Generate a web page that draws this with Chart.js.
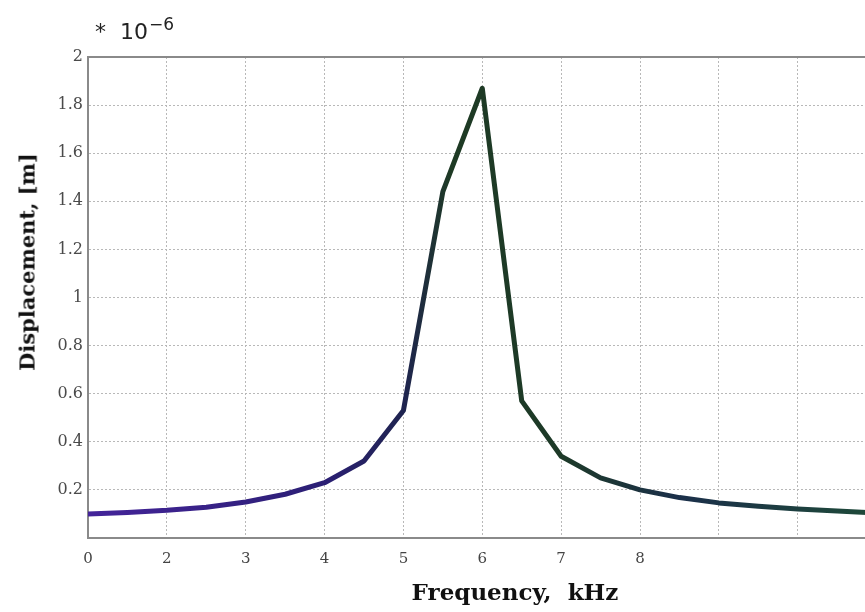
<!DOCTYPE html>
<html>
<head>
<meta charset="utf-8">
<script src="https://cdn.jsdelivr.net/npm/chart.js@4/dist/chart.umd.min.js"></script>
<style>
  html, body { margin: 0; padding: 0; background: #fff; overflow: hidden; width: 865px; height: 612px; }
  #wrap { position: absolute; left: 0; top: 0; width: 916px; height: 612px; }
  #scale { position: absolute; left: 95px; top: 21px; font: 22px "DejaVu Sans", sans-serif; line-height: 22px; color: #222; white-space: nowrap; }
  #scale sup { font-size: 17px; position: relative; top: -9px; vertical-align: baseline; margin-left: 1px; }
  .axis-title { position: absolute; font: bold 21px "DejaVu Serif", serif; color: #111; white-space: nowrap; transform: translate(-50%, -50%); }
  #ytitle { left: 27px; top: 262px; transform: translate(-50%, -50%) rotate(-90deg); }
  #xtitle { left: 515px; top: 591px; font-size: 23px; }
</style>
</head>
<body>
<div id="wrap"><canvas id="chart" width="916" height="612"></canvas></div>
<div id="scale">*&nbsp;&nbsp;10<sup>−6</sup></div>
<div class="axis-title" id="ytitle">Displacement, [m]</div>
<div class="axis-title" id="xtitle">Frequency,&nbsp;&nbsp;kHz</div>
<script>
// positions along the x axis (grid units) and displacement in 1e-6 m
const xPos = [0, 0.5, 1, 1.5, 2, 2.5, 3, 3.5, 4, 4.5, 5, 5.5, 6, 6.5, 7, 7.5, 8, 8.5, 9, 9.5, 10]
const displacement = [0.1, 0.106, 0.115, 0.128, 0.15, 0.182, 0.23, 0.32, 0.53, 1.44, 1.87, 0.57, 0.34, 0.25, 0.2, 0.168, 0.146, 0.132, 0.121, 0.112, 0.104]
// labels printed under the vertical grid lines
const xTickLabels = ['0', '2', '3', '4', '5', '6', '7', '8', '', '', '']

const points = xPos.map((x, i) => ({ x: x, y: displacement[i] }))

// gradient purple -> dark green along the curve
function lineGradient(context) {
  const area = context.chart.chartArea
  if (!area) return '#2a1f70'
  const g = context.chart.ctx.createLinearGradient(area.left, 0, area.left + 10 * (area.right - area.left) / 10.5, 0)
  g.addColorStop(0, '#44249a')
  g.addColorStop(0.3, '#2b1f74')
  g.addColorStop(0.4, '#1f2450')
  g.addColorStop(0.46, '#1e3a24')
  g.addColorStop(0.6, '#1d3a28')
  g.addColorStop(0.75, '#1b2f4a')
  g.addColorStop(1, '#1e4a38')
  return g
}

const tickFont = '"DejaVu Serif", serif'

new Chart(document.getElementById('chart'), {
  type: 'line',
  data: {
    datasets: [{
      data: points,
      borderColor: lineGradient,
      borderWidth: 5,
      pointRadius: 0,
      tension: 0,
      borderJoinStyle: 'round',
      borderCapStyle: 'round'
    }]
  },
  options: {
    responsive: false,
    animation: false,
    layout: { padding: 0 },
    plugins: {
      legend: { display: false },
      tooltip: { enabled: false }
    },
    scales: {
      x: {
        type: 'linear',
        position: 'bottom',
        min: 0,
        max: 10.5,
        afterFit: (scale) => { scale.height = 74 },
        ticks: {
          stepSize: 1,
          includeBounds: false,
          padding: 12,
          color: '#444',
          font: { family: tickFont, size: 15 },
          maxRotation: 0,
          callback: (v) => xTickLabels[v] ?? ''
        },
        grid: { color: '#b8b8b8', drawTicks: false, lineWidth: 1 },
        border: { display: true, color: '#8a8a8a', width: 2, dash: [2, 2] }
      },
      xTop: {
        type: 'linear',
        position: 'top',
        min: 0,
        max: 10.5,
        afterFit: (scale) => { scale.height = 57 },
        ticks: { display: false },
        grid: { display: false },
        border: { display: true, color: '#8a8a8a', width: 2 }
      },
      y: {
        min: 0,
        max: 2,
        afterFit: (scale) => { scale.width = 88 },
        ticks: {
          stepSize: 0.2,
          padding: 5,
          color: '#4a4a4a',
          font: { family: tickFont, size: 16 },
          callback: (v) => v === 0 ? '' : String(Number(v.toFixed(1)))
        },
        grid: { color: '#b8b8b8', drawTicks: false, lineWidth: 1 },
        border: { display: true, color: '#8a8a8a', width: 2, dash: [2, 2] }
      }
    }
  }
})
</script>
</body>
</html>
